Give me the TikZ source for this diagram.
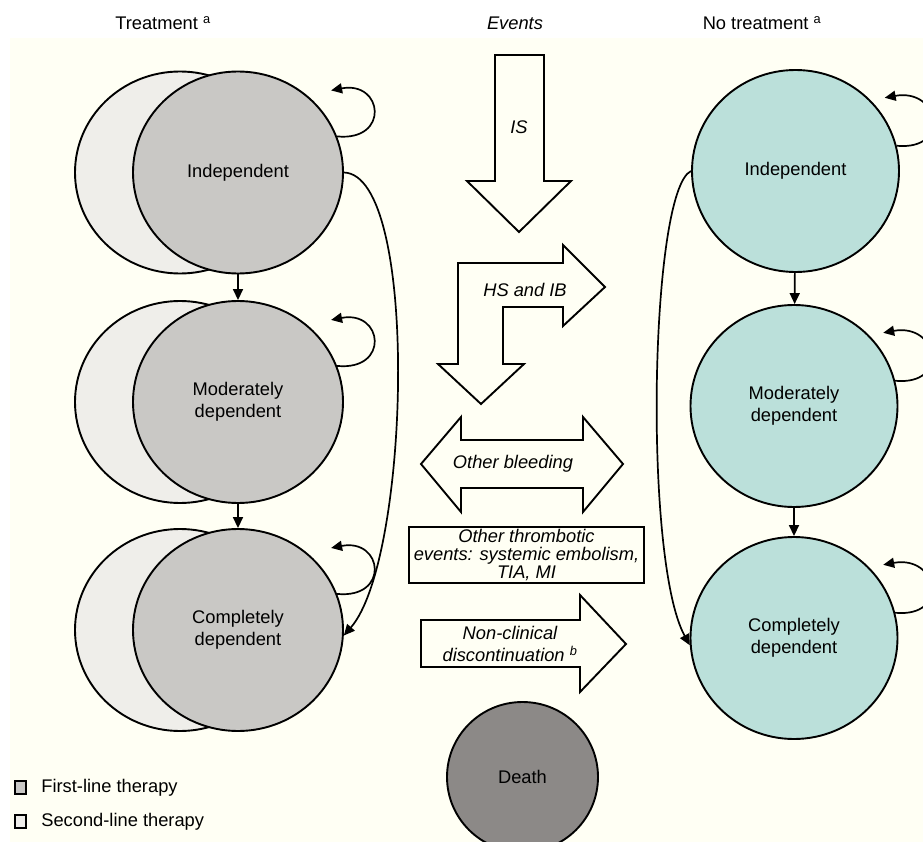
\documentclass[tikz,border=0pt]{standalone}
\usepackage{fontspec}
\setmainfont{Liberation Sans}
\usetikzlibrary{arrows.meta,shapes.geometric,positioning}
\definecolor{cream}{HTML}{FFFFF4}
\definecolor{firstline}{HTML}{C9C8C5}
\definecolor{secondline}{HTML}{EFEEEA}
\definecolor{notreat}{HTML}{BBE0DA}
\definecolor{deathgray}{HTML}{8C8987}

\begin{document}
\begin{tikzpicture}[x=1pt,y=-1pt,
	every node/.style={font=\fontsize{18.3}{21.7}\selectfont},
	state/.style={ellipse,draw,line width=1.9pt,inner sep=0pt,align=center,
		minimum width=210pt,minimum height=202pt},
	trans/.style={line width=1.7pt,-{Triangle[length=11pt,width=10pt]}},
	selfloop/.style={line width=1.7pt,-{Triangle[length=11pt,width=10pt]}},
	evshape/.style={draw,line width=1.9pt,line join=miter,fill=cream},
	legbox/.style={draw,line width=1.6pt,minimum width=11pt,minimum height=13pt,inner sep=0pt}]

	\useasboundingbox (0,0) rectangle (923,842);
	\clip (0,0) rectangle (923,842);
	\fill[cream] (10,38) rectangle (923,842);

	% column titles
	\node (ttitle) at (163,23) {Treatment \textsuperscript{a}};
	\node (etitle) at (515,23) {\itshape Events};
	\node (ntitle) at (762,23) {No treatment \textsuperscript{a}};

	% treatment states
	\node[state,fill=secondline] (tindb) at (180,172.5) {};
	\node[state,fill=secondline] (tmodb) at (180,402) {};
	\node[state,fill=secondline] (tcomb) at (180,630) {};
	\node[state,fill=firstline] (tind) at (238,172.5) {Independent};
	\node[state,fill=firstline] (tmod) at (238,402) {Moderately\\dependent};
	\node[state,fill=firstline] (tcom) at (238,630) {Completely\\dependent};

	\draw[trans] (tind) -- (tmod);
	\draw[trans] (tmod) -- (tcom);
	\draw[trans] (tind.east) .. controls (420,175) and (410,560) .. (tcom.-3);
	\foreach \n in {tind,tmod,tcom}
		\draw[selfloop] (\n.20) .. controls +(53,5) and +(52,-10) .. ++(-6,-46);

	% no treatment states
	\node[state,fill=notreat,minimum width=207pt] (nind) at (795.5,171) {Independent};
	\node[state,fill=notreat,minimum width=207pt] (nmod) at (794,406) {Moderately\\dependent};
	\node[state,fill=notreat,minimum width=207pt] (ncom) at (794,638) {Completely\\dependent};

	\draw[trans] (nind) -- (nmod);
	\draw[trans] (nmod) -- (ncom);
	\draw[trans] (nind.west) .. controls (650,190) and (643,560) .. (ncom.184);
	\foreach \n in {nind,nmod,ncom}
		\draw[selfloop] (\n.14) .. controls +(55,5) and +(55,-10) .. ++(-12,-48);

	% events
	\draw[evshape] (495,55) -- (544,55) -- (544,181) -- (571,181) -- (519,232)
		-- (467,181) -- (495,181) -- cycle;
	\node (is) at (519,127) {\itshape IS};

	\draw[evshape] (458,263) -- (563,263) -- (563,245) -- (605,287) -- (563,326)
		-- (563,307) -- (503,307) -- (503,364) -- (524,364) -- (481,404)
		-- (438,364) -- (458,364) -- cycle;
	\node (hsib) at (525,290) {\itshape HS and IB};

	\draw[evshape] (421,464) -- (461,417) -- (461,440) -- (583,440) -- (583,417)
		-- (623,464) -- (583,512) -- (583,488) -- (461,488) -- (461,512) -- cycle;
	\node (bleed) at (513,464) {\itshape Other bleeding};

	\node[draw,line width=1.9pt,fill=cream,minimum width=235pt,minimum height=56pt,
		inner xsep=2pt,inner ysep=0pt,align=center,
		font=\fontsize{18.3}{18.4}\selectfont\itshape] (thromb) at (526.5,555)
		{Other thrombotic\\events: systemic embolism,\\TIA, MI};

	\draw[evshape] (421,620) -- (580,620) -- (580,595) -- (626,644) -- (580,692)
		-- (580,667) -- (421,667) -- cycle;
	\node[align=center] (noncl) at (510,644)
		{\itshape Non-clinical\\\itshape discontinuation \textsuperscript{b}};

	\node[ellipse,draw,line width=1.9pt,fill=deathgray,minimum width=151pt,
		minimum height=150pt] (death) at (522.5,777) {Death};

	% legend
	\node[legbox,fill=firstline] (leg1) at (20.5,787.5) {};
	\node[legbox,fill=secondline] (leg2) at (20.5,821.5) {};
	\node[right=11pt of leg1] (leg1t) {First-line therapy};
	\node[right=11pt of leg2] (leg2t) {Second-line therapy};
\end{tikzpicture}
\end{document}
